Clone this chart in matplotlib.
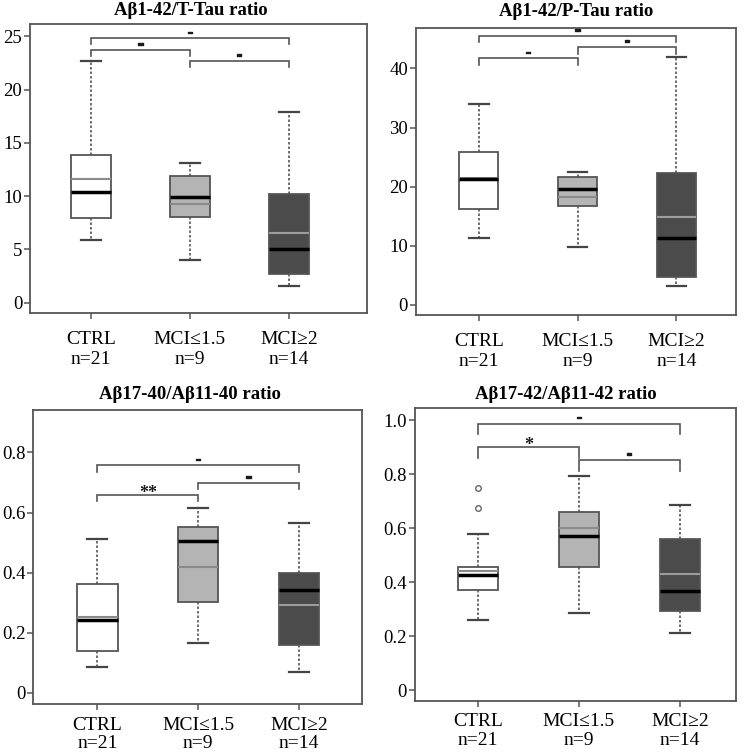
import matplotlib
matplotlib.use('Agg')
import matplotlib.pyplot as plt
import matplotlib.patheffects as pe
from matplotlib.transforms import offset_copy

plt.rcParams['font.family'] = ['Liberation Serif', 'DejaVu Serif']

# ---------------- data ----------------
groups = ['CTRL', 'MCI≤1.5', 'MCI≥2']
group_n = [21, 9, 14]

titles = ['Aβ1-42/T-Tau ratio', 'Aβ1-42/P-Tau ratio',
          'Aβ17-40/Aβ11-40 ratio', 'Aβ17-42/Aβ11-42 ratio']

# Abeta1-42 / T-Tau
ttau_whislo = [5.9, 4.0, 1.6]
ttau_q1 = [7.95, 8.0, 2.7]
ttau_med = [10.35, 9.9, 5.0]
ttau_mean = [11.6, 9.3, 6.5]
ttau_q3 = [13.9, 11.9, 10.2]
ttau_whishi = [22.7, 13.1, 17.9]
ttau_fliers = [[], [], []]
ttau_brackets = [(1, 3, 24.8, '-'), (1, 2, 23.7, '-'), (2, 3, 22.7, '-')]

# Abeta1-42 / P-Tau
ptau_whislo = [11.3, 9.75, 3.2]
ptau_q1 = [16.2, 16.8, 4.8]
ptau_med = [21.35, 19.6, 11.4]
ptau_mean = [21.4, 18.2, 14.8]
ptau_q3 = [25.9, 21.7, 22.25]
ptau_whishi = [34.0, 22.4, 41.9]
ptau_fliers = [[], [], []]
ptau_brackets = [(1, 3, 45.5, '-'), (2, 3, 43.6, '-'), (1, 2, 41.7, '-')]

# Abeta17-40 / Abeta11-40
a40_whislo = [0.087, 0.167, 0.069]
a40_q1 = [0.141, 0.302, 0.160]
a40_med = [0.242, 0.505, 0.341]
a40_mean = [0.254, 0.420, 0.291]
a40_q3 = [0.362, 0.553, 0.400]
a40_whishi = [0.512, 0.616, 0.566]
a40_fliers = [[], [], []]
a40_brackets = [(1, 3, 0.757, '-'), (2, 3, 0.699, '-'), (1, 2, 0.659, '**')]

# Abeta17-42 / Abeta11-42
a42_whislo = [0.259, 0.287, 0.210]
a42_q1 = [0.371, 0.458, 0.294]
a42_med = [0.427, 0.571, 0.368]
a42_mean = [0.442, 0.602, 0.430]
a42_q3 = [0.458, 0.659, 0.561]
a42_whishi = [0.578, 0.794, 0.686]
a42_fliers = [[0.750, 0.673], [], []]
a42_brackets = [(1, 3, 0.987, '-'), (1, 2, 0.899, '*'), (2, 3, 0.852, '-')]

panels = [
    (ttau_whislo, ttau_q1, ttau_med, ttau_mean, ttau_q3, ttau_whishi, ttau_fliers, ttau_brackets),
    (ptau_whislo, ptau_q1, ptau_med, ptau_mean, ptau_q3, ptau_whishi, ptau_fliers, ptau_brackets),
    (a40_whislo, a40_q1, a40_med, a40_mean, a40_q3, a40_whishi, a40_fliers, a40_brackets),
    (a42_whislo, a42_q1, a42_med, a42_mean, a42_q3, a42_whishi, a42_fliers, a42_brackets),
]

# ---------------- layout / style ----------------
rects = [
    [0.0402, 0.5843, 0.4517, 0.3838],
    [0.5572, 0.5817, 0.4290, 0.3815],
    [0.0446, 0.0647, 0.4402, 0.3904],
    [0.5559, 0.0691, 0.4311, 0.3887],
]
xlims = [(0.384, 3.79), (0.362, 3.60), (0.365, 3.62), (0.372, 3.56)]
ylims = [(-0.97, 26.15), (-1.69, 46.87), (-0.0376, 0.94), (-0.040, 1.044)]
yticks = [[0, 5, 10, 15, 20, 25], [0, 10, 20, 30, 40],
          [0, 0.2, 0.4, 0.6, 0.8], [0, 0.2, 0.4, 0.6, 0.8, 1.0]]
ytick_labels = [['0', '5', '10', '15', '20', '25'], ['0', '10', '20', '30', '40'],
                ['0', '0.2', '0.4', '0.6', '0.8'], ['0', '0.2', '0.4', '0.6', '0.8', '1.0']]
tips = [0.55, 1.1, 0.022, 0.04]
title_pos = [(0.478, 1.031), (0.501, 1.042), (0.476, 1.037), (0.470, 1.031)]
xpads = [8.4, 8.4, 4.5, 4.5]
xlinespacing = [1.25, 1.25, 1.12, 1.12]

fills = ['white', '#b4b4b4', '#4b4b4b']
mean_colors = ['#8a8a8a', '#8a8a8a', '#9c9c9c']
edge = '#555555'

fig = plt.figure(figsize=(7.46, 7.53), dpi=100)

for k, (lo, q1, med, mean, q3, hi, fl, brackets) in enumerate(panels):
    ax = fig.add_axes(rects[k])
    stats = []
    for i in range(3):
        stats.append(dict(whislo=lo[i], q1=q1[i], med=med[i], mean=mean[i],
                          q3=q3[i], whishi=hi[i], fliers=fl[i]))
    bp = ax.bxp(stats, positions=[1, 2, 3], widths=0.4, capwidths=0.2,
                patch_artist=True, showmeans=True, meanline=True,
                boxprops=dict(edgecolor=edge, linewidth=1.3),
                whiskerprops=dict(color=edge, linewidth=1.2, linestyle=(0, (1.5, 1.2))),
                capprops=dict(color='#444444', linewidth=1.6),
                medianprops=dict(color='black', linewidth=2.5),
                meanprops=dict(color='#8a8a8a', linestyle='-', linewidth=1.5),
                flierprops=dict(marker='o', markersize=4, markerfacecolor='none',
                                markeredgecolor='#666666', markeredgewidth=1.0))
    for i, b in enumerate(bp['boxes']):
        b.set_facecolor(fills[i])
    for i, m in enumerate(bp['means']):
        m.set_color(mean_colors[i])
        m.set_zorder(2.05)
    for m in bp['medians']:
        m.set_zorder(2.1)

    # significance brackets
    for (i, j, h, lbl) in brackets:
        ax.plot([i, i, j, j], [h - tips[k], h, h, h - tips[k]], color=edge,
                linewidth=1.2, solid_joinstyle='miter')
        if lbl == '-':
            tr = offset_copy(ax.transData, fig=fig, x=0, y=6.0, units='dots')
            ax.text((i + j) / 2, h, lbl, transform=tr, ha='center', va='center',
                    fontsize=12, fontweight='bold', color='#1a1a1a',
                    path_effects=[pe.withStroke(linewidth=1.0, foreground='#1a1a1a')])
        else:
            tr = offset_copy(ax.transData, fig=fig, x=0, y=1.5, units='dots')
            ax.text((i + j) / 2, h, lbl, transform=tr, ha='center', va='center',
                    fontsize=13, fontweight='bold', color='#1a1a1a')

    ax.set_xlim(*xlims[k])
    ax.set_ylim(*ylims[k])
    ax.set_yticks(yticks[k])
    ax.set_yticklabels(ytick_labels[k])
    ax.set_xticks([1, 2, 3])
    ax.set_xticklabels([f'{g}\nn={n}' for g, n in zip(groups, group_n)],
                       linespacing=xlinespacing[k])
    for s in ax.spines.values():
        s.set_color(edge)
        s.set_linewidth(1.3)
    ax.tick_params(axis='y', direction='out', length=4.5, width=1.1, color=edge,
                   labelsize=13.5, pad=1.0)
    ax.tick_params(axis='x', direction='out', length=4.5, width=1.1, color=edge,
                   labelsize=14, pad=xpads[k])
    ax.text(title_pos[k][0], title_pos[k][1], titles[k], transform=ax.transAxes,
            ha='center', va='baseline', fontsize=13.5, fontweight='bold')

fig.savefig('out.png', dpi=100)
